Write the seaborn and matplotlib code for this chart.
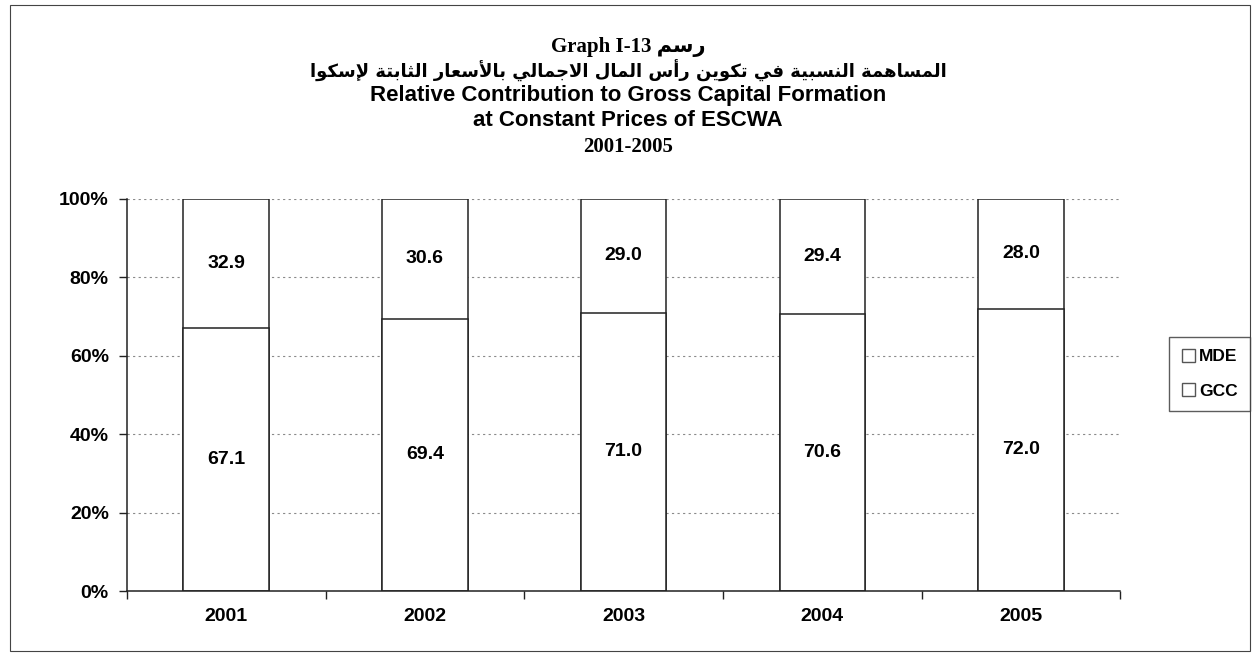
import numpy as np
import pandas as pd
import seaborn as sns
import matplotlib.pyplot as plt
from matplotlib.patches import Patch, Rectangle
from matplotlib.ticker import FixedLocator, PercentFormatter

YEARS = ["2001", "2002", "2003", "2004", "2005"]
GCC = [67.1, 69.4, 71.0, 70.6, 72.0]
MDE = [32.9, 30.6, 29.0, 29.4, 28.0]

TITLE_AR_1 = "رسم"
TITLE_AR_2 = "المساهمة النسبية في تكوين رأس المال الاجمالي بالأسعار الثابتة لإسكوا"

# matplotlib has no arabic shaping, so map letters to presentation forms by hand
ARABIC_FORMS = {
    'ا': (0xFE8D, False), 'أ': (0xFE83, False), 'إ': (0xFE87, False),
    'ب': (0xFE8F, True), 'ة': (0xFE93, False), 'ت': (0xFE95, True),
    'ث': (0xFE99, True), 'ج': (0xFE9D, True), 'ر': (0xFEAD, False),
    'س': (0xFEB1, True), 'ع': (0xFEC9, True), 'ف': (0xFED1, True),
    'ك': (0xFED9, True), 'ل': (0xFEDD, True), 'م': (0xFEE1, True),
    'ن': (0xFEE5, True), 'ه': (0xFEE9, True), 'و': (0xFEED, False),
    'ي': (0xFEF1, True),
}
LAM_ALEF = {'ا': 0xFEFB, 'أ': 0xFEF7, 'إ': 0xFEF9}


def shape_arabic(text):
    words = []
    for word in text.split(' '):
        units = []
        i = 0
        while i < len(word):
            c = word[i]
            if c == 'ل' and i + 1 < len(word) and word[i + 1] in LAM_ALEF:
                units.append((None, LAM_ALEF[word[i + 1]]))
                i += 2
            else:
                units.append((c, None))
                i += 1
        glyphs = []
        for k, (c, lig) in enumerate(units):
            prev = units[k - 1] if k > 0 else None
            prev_joins = prev is not None and prev[0] is not None and ARABIC_FORMS[prev[0]][1]
            if lig is not None:
                glyphs.append(chr(lig + (1 if prev_joins else 0)))
                continue
            base, dual = ARABIC_FORMS[c]
            if dual and k + 1 < len(units):
                form = 3 if prev_joins else 2
            else:
                form = 1 if prev_joins else 0
            glyphs.append(chr(base + form))
        words.append(''.join(glyphs))
    return ' '.join(words)[::-1]


def main():
    sns.set_style("ticks")
    plt.rcParams['font.family'] = ['Liberation Sans', 'DejaVu Sans']
    plt.rcParams['font.weight'] = 'bold'
    plt.rcParams['text.color'] = 'black'
    plt.rcParams['xtick.color'] = 'black'
    plt.rcParams['ytick.color'] = 'black'

    df = pd.DataFrame({"year": YEARS, "GCC": GCC, "MDE": MDE})
    df["total"] = df["GCC"] + df["MDE"]

    fig = plt.figure(figsize=(12.56, 6.56), dpi=100)
    ax = fig.add_axes([0.101, 0.099, 0.791, 0.598])

    bar_kw = dict(width=0.43, color="white", edgecolor="#222222", linewidth=1.1)
    sns.barplot(data=df, x="year", y="total", ax=ax, **bar_kw)
    sns.barplot(data=df, x="year", y="GCC", ax=ax, **bar_kw)

    ax.bar_label(ax.containers[1], labels=[f"{v:.1f}" for v in GCC],
                 label_type="center", fontsize=14, fontweight="bold", color="black")
    for i, (g, m) in enumerate(zip(GCC, MDE)):
        ax.text(i, g + m / 2, f"{m:.1f}", ha="center", va="center",
                fontsize=14, fontweight="bold", color="black")

    ax.set_xlim(-0.5, len(YEARS) - 0.5)
    ax.set_ylim(0, 100)
    ax.yaxis.set_major_locator(FixedLocator([0, 20, 40, 60, 80, 100]))
    ax.yaxis.set_major_formatter(PercentFormatter(decimals=0))
    ax.yaxis.grid(True, linestyle=(0, (2, 3)), color="#8a8a8a", linewidth=0.8)
    ax.set_axisbelow(True)

    ax.xaxis.set_minor_locator(FixedLocator(np.arange(-0.5, len(YEARS), 1.0)))
    ax.tick_params(axis="x", which="major", length=0, pad=12, labelsize=14)
    ax.tick_params(axis="x", which="minor", length=6, width=1, color="#222222")
    ax.tick_params(axis="y", length=6, width=1, pad=7, labelsize=14, color="#222222")
    for lab in ax.get_xticklabels() + ax.get_yticklabels():
        lab.set_fontweight("bold")
    ax.set_xlabel("")
    ax.set_ylabel("")
    sns.despine(ax=ax)
    for s in ["left", "bottom"]:
        ax.spines[s].set_linewidth(1.1)
        ax.spines[s].set_color("#222222")

    # titles
    fig.text(0.5, 0.928, "Graph I-13 " + shape_arabic(TITLE_AR_1), ha="center", va="center",
             fontsize=15, fontweight="bold", family=['Liberation Serif', 'DejaVu Sans'])
    fig.text(0.5, 0.892, shape_arabic(TITLE_AR_2), ha="center", va="center",
             fontsize=13, fontweight="bold", family=['DejaVu Sans'])
    fig.text(0.5, 0.854, "Relative Contribution to Gross Capital Formation", ha="center",
             va="center", fontsize=16, fontweight="bold")
    fig.text(0.5, 0.816, "at Constant Prices of ESCWA", ha="center", va="center",
             fontsize=16, fontweight="bold")
    fig.text(0.5, 0.776, "2001-2005", ha="center", va="center",
             fontsize=15, fontweight="bold", family=['Liberation Serif'])

    handles = [Patch(facecolor="white", edgecolor="#555555", label="MDE"),
               Patch(facecolor="white", edgecolor="#555555", label="GCC")]
    leg = fig.legend(handles=handles, loc="center", bbox_to_anchor=(0.963, 0.43),
                     frameon=True, fancybox=False, edgecolor="#333333",
                     prop={"weight": "bold", "size": 12.5}, handlelength=0.75,
                     handleheight=0.75, handletextpad=0.25, labelspacing=1.1,
                     borderpad=0.7, borderaxespad=0)
    leg.get_frame().set_linewidth(1.0)

    fig.patches.append(Rectangle((0.008, 0.008), 0.987, 0.985, transform=fig.transFigure,
                                 fill=False, edgecolor="#444444", linewidth=0.8))

    fig.savefig("out.png", dpi=100)


if __name__ == "__main__":
    main()
